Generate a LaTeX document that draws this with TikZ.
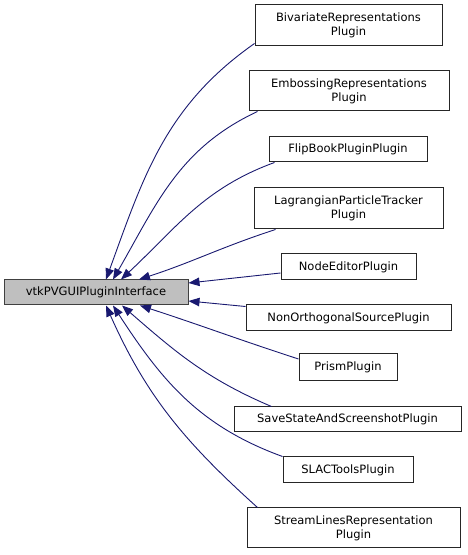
\documentclass[tikz,border=0pt]{standalone}
\usepackage{fontspec}
\setmainfont{DejaVu Sans}
\usepackage{xcolor}
\usepackage{tikz}
\usetikzlibrary{arrows.meta}
\definecolor{cedge}{HTML}{191970}
\definecolor{cbase}{HTML}{BFBFBF}
\definecolor{cline}{HTML}{404040}
\tikzset{
  >={Triangle[length=11pt,width=8.5pt]},
  cls/.style={draw=black!85,fill=white,line width=1pt,align=center,
              inner sep=1pt,minimum height=25pt},
  base/.style={cls,draw=cline,fill=cbase},
  inh/.style={<-,draw=cedge,line width=0.9pt},
}

\begin{document}
\begin{tikzpicture}[x=1pt,y=1pt,font=\fontsize{11.5}{14}\selectfont]
\useasboundingbox (0,0) rectangle (467,555);

% ================= BASE CLASS =================
\node[base,minimum width=184pt] (iface) at (96,262.5) {vtkPVGUIPluginInterface};

% ================= DERIVED PLUGINS =================
\node[cls,minimum width=187pt,minimum height=41pt] (bivar) at (348.5,529.5) {BivariateRepresentations\\Plugin};
\node[cls,minimum width=200pt,minimum height=40pt] (emboss) at (349,464) {EmbossingRepresentations\\Plugin};
\node[cls,minimum width=158pt] (flipbook) at (348,405.5) {FlipBookPluginPlugin};
\node[cls,minimum width=189pt,minimum height=41pt] (lagrange) at (348.5,346.5) {LagrangianParticleTracker\\Plugin};
\node[cls,minimum width=135pt,minimum height=26pt] (nodeed) at (348.5,288) {NodeEditorPlugin};
\node[cls,minimum width=205pt,minimum height=26pt] (nonortho) at (348.5,237) {NonOrthogonalSourcePlugin};
\node[cls,minimum width=98pt,minimum height=27pt] (prism) at (348,188) {PrismPlugin};
\node[cls,minimum width=227pt] (savestate) at (347.5,135.5) {SaveStateAndScreenshotPlugin};
\node[cls,minimum width=130pt,minimum height=26pt] (slac) at (348,85) {SLACToolsPlugin};
\node[cls,minimum width=213pt,minimum height=40pt] (streamlines) at (353.5,27) {StreamLinesRepresentation\\Plugin};

% ================= INHERITANCE EDGES =================
\draw[inh] ([xshift=10pt]iface.north) to[out=70,in=215] ([yshift=3pt]bivar.south west);
\draw[inh] ([xshift=17pt]iface.north) to[out=60,in=205] ([xshift=9pt]emboss.south west);
\draw[inh] ([xshift=25pt]iface.north) to[out=43,in=200] ([xshift=6pt]flipbook.south west);
\draw[inh] ([xshift=43pt]iface.north) to[out=18,in=198] ([xshift=22pt]lagrange.south west);
\draw[inh] ([yshift=9.5pt]iface.east) -- ([yshift=-6pt]nodeed.west);
\draw[inh] ([yshift=-8.5pt]iface.east) -- ([yshift=-2pt]nonortho.north west);
\draw[inh] ([xshift=44pt]iface.south) to[out=-18,in=162] ([yshift=-6pt]prism.north west);
\draw[inh] ([xshift=26pt]iface.south) to[out=-41,in=157] ([xshift=38pt]savestate.north west);
\draw[inh] ([xshift=17pt]iface.south) to[out=-57,in=160] (slac.north west);
\draw[inh] ([xshift=10pt]iface.south) to[out=-66,in=138] ([xshift=11pt]streamlines.north west);

\end{tikzpicture}
\end{document}
